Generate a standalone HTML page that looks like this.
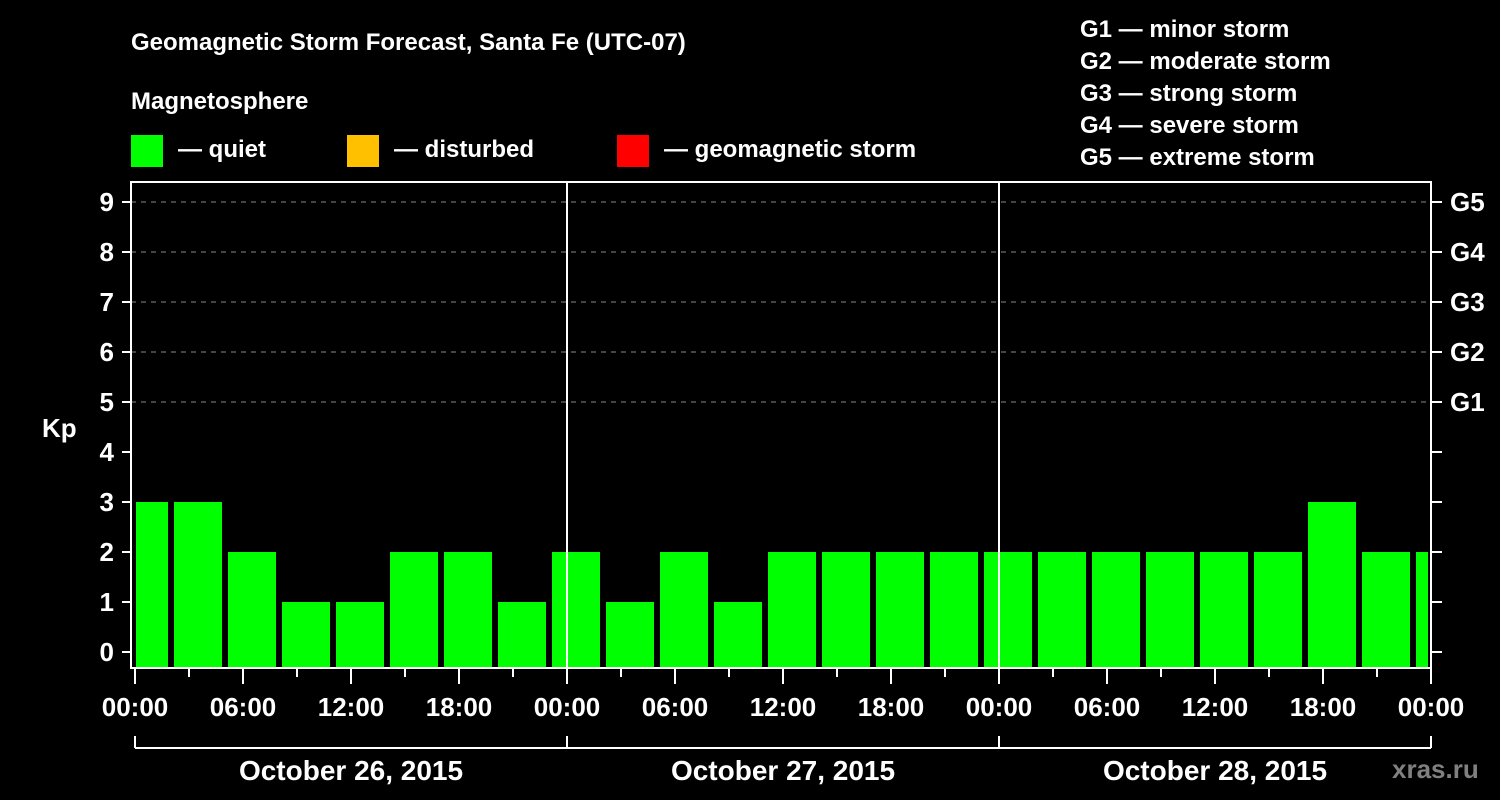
<!DOCTYPE html>
<html><head><meta charset="utf-8"><style>
body{margin:0;background:#000;}
svg{display:block;font-family:"Liberation Sans",sans-serif;font-weight:bold;}
</style></head><body>
<svg id="c" width="1500" height="800" viewBox="0 0 1500 800">
<rect width="1500" height="800" fill="#000"/>
<text x="131" y="50" fill="#fff" font-size="24">Geomagnetic Storm Forecast, Santa Fe (UTC-07)</text>
<text x="131" y="109" fill="#fff" font-size="24">Magnetosphere</text>
<g><rect x="131" y="135" width="32" height="32" fill="#00ff00"/><text x="178" y="157" fill="#fff" font-size="24">— quiet</text></g>
<g><rect x="347" y="135" width="32" height="32" fill="#ffc000"/><text x="394" y="157" fill="#fff" font-size="24">— disturbed</text></g>
<g><rect x="617" y="135" width="32" height="32" fill="#ff0000"/><text x="664" y="157" fill="#fff" font-size="24">— geomagnetic storm</text></g>
<g fill="#fff" font-size="24">
<text x="1080" y="37">G1 — minor storm</text>
<text x="1080" y="69">G2 — moderate storm</text>
<text x="1080" y="101">G3 — strong storm</text>
<text x="1080" y="133">G4 — severe storm</text>
<text x="1080" y="165">G5 — extreme storm</text>
</g>
<text x="42" y="437" fill="#fff" font-size="26">Kp</text>
<text x="1392" y="778" fill="#808080" font-size="26">xras.ru</text>
<g id="grid"></g><g id="bars"></g><g id="axes"></g>
</svg>
<script>
const kpValues=[3,3,2,1,1,2,2,1,2,1,2,1,2,2,2,2,2,2,2,2,2,2,3,2,2];
const yTicks=[0,1,2,3,4,5,6,7,8,9];
const gLabels=["G1","G2","G3","G4","G5"];
const gLevels=[5,6,7,8,9];
const dayLabels=["October 26, 2015","October 27, 2015","October 28, 2015"];
const hourLabels=["00:00","06:00","12:00","18:00"];
const firstSlotHour=-1, slotHours=3, totalHours=72;
const NS="http://www.w3.org/2000/svg";
const X0=135, PXH=18, Y0=652, PXU=50, PL=131, PR=1431, PT=182, PB=668;
const x=h=>X0+h*PXH, y=v=>Y0-v*PXU;
function mk(p,t,a){const e=document.createElementNS(NS,t);for(const k in a)e.setAttribute(k,a[k]);p.appendChild(e);return e;}
const grid=document.getElementById('grid'),bars=document.getElementById('bars'),axes=document.getElementById('axes');
yTicks.forEach(v=>{
 if(v>=5){const l=mk(grid,'line',{x1:PL,x2:PR,y1:y(v),y2:y(v),stroke:'#888','stroke-dasharray':'5,5','stroke-width':1});
 
 }
 mk(axes,'line',{x1:122,x2:PL,y1:y(v),y2:y(v),stroke:'#fff','stroke-width':2});
 mk(axes,'line',{x1:PR,x2:1442,y1:y(v),y2:y(v),stroke:'#fff','stroke-width':2});
 const t=mk(axes,'text',{x:114,y:y(v)+9,fill:'#fff','font-size':26,'text-anchor':'end'});t.textContent=v;
 
 
});
gLevels.forEach((v,i)=>{const t=mk(axes,'text',{x:1450,y:y(v)+9,fill:'#fff','font-size':26});t.textContent=gLabels[i];
 
 });
kpValues.forEach((v,i)=>{
 const h0=firstSlotHour+i*slotHours;
 let x1=Math.max(x(h0)+3,PL+5), x2=Math.min(x(h0+slotHours)-3,x(totalHours)-3);
 const c=v>=5?'#ff0000':v>=4?'#ffc000':'#00ff00';
 const r=mk(bars,'rect',{x:x1,y:y(v),width:x2-x1,height:PB-y(v),fill:c});
 
 
});
for(let d=1;d<3;d++){mk(axes,'line',{x1:x(d*24),x2:x(d*24),y1:PT,y2:PB,stroke:'#fff','stroke-width':2});}
const fr=mk(axes,'rect',{x:PL,y:PT,width:PR-PL,height:PB-PT,fill:'none',stroke:'#fff','stroke-width':2});


for(let h=0;h<=totalHours;h+=3){
 const major=h%6===0;
 mk(axes,'line',{x1:x(h),x2:x(h),y1:PB,y2:major?684:677,stroke:'#fff','stroke-width':2});
 if(major){const t=mk(axes,'text',{x:x(h),y:716,fill:'#fff','font-size':26,'text-anchor':'middle'});
 t.textContent=hourLabels[(h/6)%4];
 
 }
}
mk(axes,'line',{x1:x(0),x2:x(totalHours),y1:748,y2:748,stroke:'#fff','stroke-width':2});
for(let d=0;d<=3;d++)mk(axes,'line',{x1:x(d*24),x2:x(d*24),y1:736,y2:748,stroke:'#fff','stroke-width':2});
dayLabels.forEach((s,d)=>{const t=mk(axes,'text',{x:x(d*24+12),y:780,fill:'#fff','font-size':28,'text-anchor':'middle'});t.textContent=s;
 
 });
</script>
</body></html>
